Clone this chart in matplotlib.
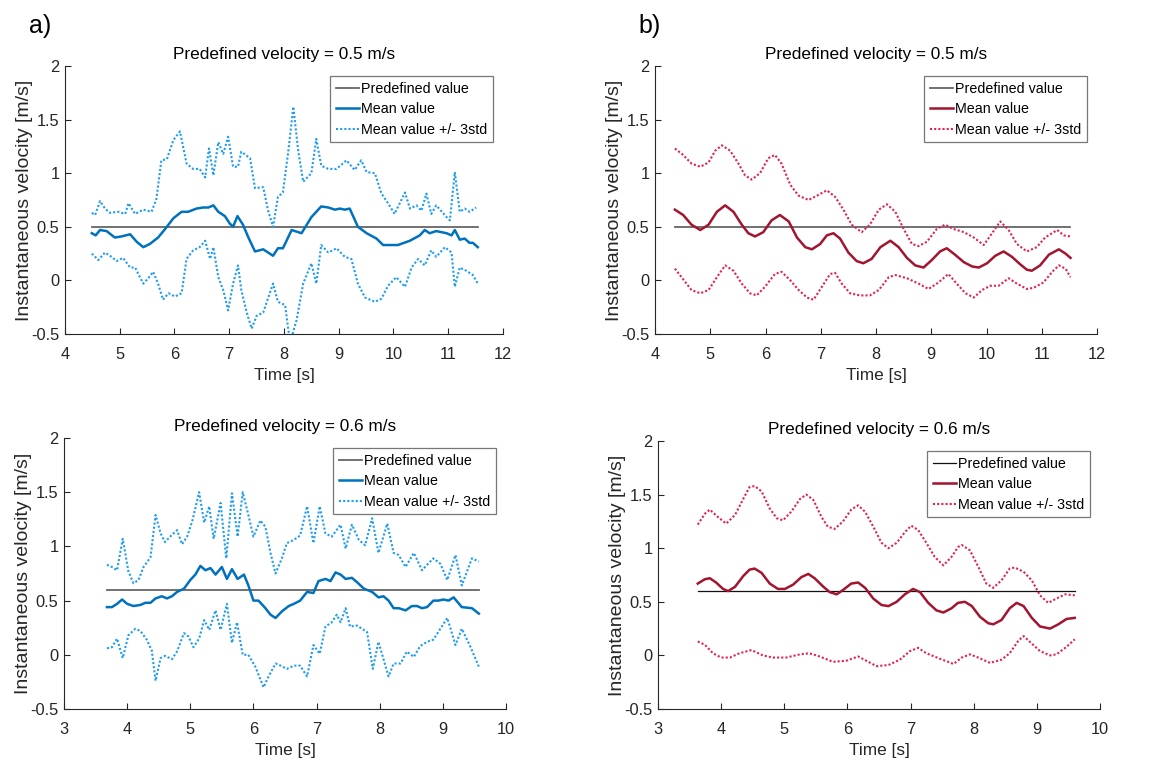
import matplotlib
matplotlib.use("Agg")
import matplotlib.pyplot as plt
from matplotlib.ticker import FuncFormatter

plt.rcParams['font.family'] = ['Liberation Sans', 'DejaVu Sans']

# ---- a) top : predefined 0.5 m/s
a1_ref = 0.5
a1_mean_t = [4.49, 4.56, 4.64, 4.76, 4.91, 5.03, 5.19, 5.31, 5.43, 5.55, 5.70, 5.83, 5.98, 6.13, 6.25,
             6.40, 6.52, 6.62, 6.71, 6.80, 6.92, 7.01, 7.07, 7.15, 7.25, 7.35, 7.47, 7.62, 7.71, 7.80,
             7.89, 7.98, 8.14, 8.32, 8.50, 8.68, 8.81, 8.93, 9.02, 9.11, 9.20, 9.35, 9.51, 9.69, 9.81,
             9.99, 10.08, 10.30, 10.48, 10.57, 10.66, 10.78, 10.97, 11.06, 11.12, 11.21, 11.30, 11.39,
             11.45, 11.54]
a1_mean_v = [0.44, 0.42, 0.47, 0.46, 0.40, 0.41, 0.43, 0.36, 0.31, 0.34, 0.40, 0.48, 0.58, 0.64, 0.64,
             0.67, 0.68, 0.68, 0.70, 0.64, 0.60, 0.53, 0.50, 0.60, 0.52, 0.40, 0.27, 0.29, 0.26, 0.23,
             0.30, 0.30, 0.47, 0.44, 0.59, 0.69, 0.68, 0.66, 0.67, 0.66, 0.67, 0.50, 0.44, 0.39, 0.33,
             0.33, 0.33, 0.37, 0.42, 0.47, 0.44, 0.46, 0.44, 0.42, 0.47, 0.38, 0.39, 0.35, 0.35, 0.31]
a1_up_t = [4.49, 4.55, 4.64, 4.73, 4.82, 4.97, 5.10, 5.16, 5.28, 5.43, 5.58, 5.67, 5.76, 5.86, 5.98,
           6.10, 6.22, 6.34, 6.46, 6.56, 6.63, 6.71, 6.80, 6.89, 6.98, 7.07, 7.16, 7.22, 7.38, 7.47,
           7.62, 7.71, 7.80, 7.89, 7.98, 8.08, 8.17, 8.26, 8.35, 8.50, 8.59, 8.68, 8.81, 8.96, 9.14,
           9.29, 9.41, 9.51, 9.66, 9.78, 9.90, 10.02, 10.21, 10.30, 10.42, 10.51, 10.60, 10.69, 10.78,
           10.97, 11.03, 11.12, 11.21, 11.30, 11.39, 11.51]
a1_up_v = [0.63, 0.61, 0.74, 0.67, 0.63, 0.64, 0.62, 0.72, 0.62, 0.66, 0.64, 0.76, 1.12, 1.13, 1.31,
           1.39, 1.09, 1.04, 1.04, 0.96, 1.23, 0.98, 1.29, 1.18, 1.34, 1.06, 1.06, 1.20, 1.14, 0.86,
           0.87, 0.65, 0.50, 0.78, 0.82, 1.21, 1.62, 1.21, 0.92, 1.00, 1.32, 1.07, 1.04, 1.04, 1.12,
           1.03, 1.12, 1.01, 1.00, 0.81, 0.72, 0.62, 0.82, 0.67, 0.70, 0.65, 0.81, 0.62, 0.70,
           0.59, 0.56, 1.01, 0.64, 0.67, 0.64, 0.68]
a1_lo_t = [4.49, 4.61, 4.73, 4.85, 4.94, 5.06, 5.19, 5.28, 5.37, 5.43, 5.52, 5.61, 5.70, 5.79, 5.89,
           6.01, 6.13, 6.22, 6.34, 6.46, 6.56, 6.65, 6.71, 6.80, 6.89, 6.98, 7.07, 7.16, 7.22, 7.32,
           7.41, 7.50, 7.62, 7.80, 7.89, 8.02, 8.11, 8.23, 8.35, 8.50, 8.59, 8.68, 8.81, 8.96, 9.11,
           9.23, 9.35, 9.48, 9.66, 9.78, 9.90, 10.05, 10.21, 10.33, 10.45, 10.57, 10.69, 10.78, 10.94,
           11.06, 11.12, 11.21, 11.33, 11.45, 11.54]
a1_lo_v = [0.25, 0.19, 0.26, 0.22, 0.18, 0.21, 0.12, 0.12, 0.03, -0.03, 0.02, 0.08, -0.03, -0.18, -0.12,
           -0.15, -0.12, 0.20, 0.28, 0.31, 0.37, 0.20, 0.31, 0.03, -0.09, -0.28, -0.03, 0.14, -0.09, -0.30,
           -0.45, -0.33, -0.30, -0.03, -0.20, -0.23, -0.58, -0.37, -0.03, 0.16, -0.03, 0.33, 0.26, 0.30, 0.22,
           0.20, -0.03, -0.16, -0.20, -0.17, -0.05, 0.03, -0.06, 0.12, 0.20, 0.14, 0.28, 0.22, 0.31,
           0.26, -0.06, 0.12, 0.09, 0.05, -0.03]

# ---- b) top : predefined 0.5 m/s
b1_ref = 0.5
b1_mean_t = [4.36, 4.51, 4.66, 4.82, 4.97, 5.12, 5.27, 5.42, 5.57, 5.69, 5.81, 5.96, 6.11, 6.26, 6.42,
             6.57, 6.72, 6.84, 6.99, 7.11, 7.23, 7.35, 7.50, 7.65, 7.77, 7.92, 8.08, 8.26, 8.41, 8.56,
             8.71, 8.86, 9.01, 9.16, 9.28, 9.43, 9.59, 9.74, 9.86, 10.01, 10.16, 10.31, 10.46, 10.61,
             10.73, 10.82, 10.97, 11.13, 11.31, 11.43, 11.52]
b1_mean_v = [0.66, 0.61, 0.52, 0.47, 0.52, 0.64, 0.70, 0.64, 0.52, 0.44, 0.41, 0.45, 0.56, 0.61, 0.55,
             0.40, 0.31, 0.29, 0.34, 0.42, 0.44, 0.39, 0.26, 0.18, 0.16, 0.20, 0.31, 0.37, 0.31, 0.21,
             0.14, 0.12, 0.19, 0.27, 0.30, 0.24, 0.17, 0.13, 0.12, 0.16, 0.23, 0.27, 0.22, 0.15,
             0.10, 0.09, 0.14, 0.24, 0.29, 0.25, 0.21]
b1_up_t = [4.36, 4.51, 4.66, 4.82, 4.97, 5.09, 5.21, 5.36, 5.51, 5.63, 5.75, 5.90, 6.05, 6.17, 6.29,
           6.45, 6.60, 6.78, 6.93, 7.11, 7.26, 7.41, 7.56, 7.74, 7.89, 8.05, 8.20, 8.35, 8.50, 8.65,
           8.77, 8.92, 9.10, 9.25, 9.40, 9.59, 9.77, 9.95, 10.10, 10.25, 10.40, 10.55, 10.73, 10.91,
           11.06, 11.28, 11.40, 11.52]
b1_up_v = [1.23, 1.17, 1.09, 1.06, 1.10, 1.21, 1.26, 1.21, 1.09, 0.98, 0.94, 1.00, 1.14, 1.17, 1.09,
           0.89, 0.79, 0.75, 0.79, 0.84, 0.78, 0.66, 0.52, 0.45, 0.52, 0.66, 0.71, 0.64, 0.48, 0.34,
           0.32, 0.36, 0.48, 0.52, 0.48, 0.45, 0.40, 0.33, 0.44, 0.55, 0.47, 0.34, 0.27, 0.31,
           0.40, 0.47, 0.42, 0.41]
b1_lo_t = [4.36, 4.51, 4.66, 4.82, 4.97, 5.12, 5.27, 5.42, 5.57, 5.72, 5.84, 5.99, 6.17, 6.29, 6.45,
           6.60, 6.75, 6.87, 7.02, 7.17, 7.26, 7.38, 7.53, 7.71, 7.89, 8.05, 8.23, 8.35, 8.56, 8.77,
           8.95, 9.13, 9.31, 9.46, 9.62, 9.77, 9.92, 10.07, 10.22, 10.40, 10.55, 10.73, 10.85, 11.03,
           11.19, 11.31, 11.43, 11.52]
b1_lo_v = [0.11, 0.01, -0.09, -0.12, -0.09, 0.03, 0.14, 0.09, -0.03, -0.12, -0.14, -0.06, 0.06, 0.08, 0.00,
           -0.09, -0.16, -0.18, -0.06, 0.06, 0.07, -0.03, -0.12, -0.14, -0.14, -0.09, 0.03, 0.05, 0.02, -0.03,
           -0.08, -0.02, 0.06, -0.03, -0.12, -0.16, -0.09, -0.05, -0.05, 0.02, -0.03, -0.08, -0.07, -0.02,
           0.08, 0.14, 0.11, 0.03]

# ---- a) bottom : predefined 0.6 m/s
a2_ref = 0.6
a2_mean_t = [3.68, 3.76, 3.84, 3.92, 4.00, 4.10, 4.21, 4.29, 4.37, 4.45, 4.55, 4.63, 4.71, 4.79, 4.90,
             5.00, 5.08, 5.16, 5.24, 5.32, 5.40, 5.50, 5.58, 5.66, 5.75, 5.85, 5.92, 6.00, 6.08, 6.19,
             6.27, 6.35, 6.45, 6.56, 6.64, 6.74, 6.85, 6.95, 7.03, 7.14, 7.22, 7.30, 7.38, 7.46, 7.56,
             7.64, 7.75, 7.88, 7.98, 8.06, 8.14, 8.22, 8.30, 8.41, 8.51, 8.59, 8.67, 8.75, 8.85, 8.93,
             9.01, 9.09, 9.17, 9.30, 9.46, 9.57]
a2_mean_v = [0.44, 0.44, 0.47, 0.51, 0.47, 0.45, 0.46, 0.48, 0.48, 0.52, 0.54, 0.52, 0.54, 0.58, 0.61,
             0.69, 0.74, 0.82, 0.78, 0.80, 0.74, 0.81, 0.70, 0.79, 0.70, 0.74, 0.64, 0.50, 0.50, 0.43,
             0.37, 0.34, 0.40, 0.45, 0.47, 0.50, 0.58, 0.57, 0.68, 0.70, 0.68, 0.76, 0.74, 0.70, 0.71,
             0.67, 0.61, 0.58, 0.53, 0.54, 0.50, 0.43, 0.43, 0.41, 0.45, 0.45, 0.43, 0.44, 0.50, 0.50,
             0.51, 0.50, 0.53, 0.44, 0.43, 0.38]
a2_up_t = [3.68, 3.76, 3.84, 3.93, 4.02, 4.10, 4.18, 4.26, 4.37, 4.45, 4.53, 4.60, 4.68, 4.79, 4.87,
           4.95, 5.03, 5.14, 5.22, 5.30, 5.37, 5.48, 5.57, 5.66, 5.75, 5.83, 5.92, 6.00, 6.11, 6.19,
           6.27, 6.35, 6.45, 6.53, 6.64, 6.74, 6.85, 6.95, 7.05, 7.14, 7.24, 7.38, 7.46, 7.56, 7.67,
           7.77, 7.88, 7.98, 8.12, 8.22, 8.30, 8.41, 8.54, 8.67, 8.75, 8.85, 8.96, 9.07, 9.20, 9.30,
           9.46, 9.57]
a2_up_v = [0.83, 0.81, 0.78, 1.07, 0.77, 0.66, 0.69, 0.81, 0.90, 1.29, 1.12, 1.04, 1.09, 1.15, 1.02,
           1.09, 1.23, 1.50, 1.22, 1.37, 1.07, 1.40, 0.89, 1.49, 1.09, 1.50, 1.29, 1.09, 1.24, 1.18,
           0.94, 0.75, 0.89, 1.03, 1.06, 1.10, 1.37, 1.03, 1.37, 1.12, 1.09, 1.20, 0.98, 1.20, 1.06,
           1.01, 1.26, 0.94, 1.21, 0.94, 0.92, 0.81, 0.94, 0.78, 0.83, 0.89, 0.84, 0.69, 0.92, 0.64,
           0.89, 0.86]
a2_lo_t = [3.68, 3.76, 3.84, 3.93, 4.02, 4.13, 4.21, 4.31, 4.39, 4.45, 4.53, 4.60, 4.71, 4.79, 4.90,
           4.97, 5.05, 5.14, 5.22, 5.30, 5.40, 5.48, 5.58, 5.66, 5.74, 5.83, 5.92, 6.03, 6.16, 6.24,
           6.35, 6.43, 6.53, 6.64, 6.74, 6.85, 6.95, 7.05, 7.14, 7.24, 7.32, 7.38, 7.46, 7.53, 7.64,
           7.80, 7.89, 7.98, 8.14, 8.22, 8.33, 8.43, 8.54, 8.64, 8.75, 8.85, 8.96, 9.07, 9.20, 9.30,
           9.44, 9.57]
a2_lo_v = [0.06, 0.07, 0.15, -0.03, 0.18, 0.24, 0.22, 0.14, 0.04, -0.24, -0.03, -0.01, -0.04, 0.03, 0.20,
           0.17, 0.07, 0.15, 0.32, 0.23, 0.41, 0.23, 0.47, 0.11, 0.30, 0.00, 0.00, -0.11, -0.30, -0.20,
           -0.08, -0.10, -0.13, -0.10, -0.10, -0.20, 0.09, 0.01, 0.26, 0.30, 0.37, 0.30, 0.43, 0.26, 0.27,
           0.21, -0.13, 0.12, -0.20, -0.08, -0.08, 0.03, -0.02, 0.08, 0.12, 0.14, 0.24, 0.34, 0.09, 0.24,
           0.07, -0.11]

# ---- b) bottom : predefined 0.6 m/s
b2_ref = 0.6
b2_mean_t = [3.63, 3.74, 3.82, 3.92, 4.03, 4.11, 4.22, 4.35, 4.45, 4.53, 4.64, 4.77, 4.90, 5.01, 5.14,
             5.27, 5.38, 5.48, 5.62, 5.72, 5.83, 5.93, 6.06, 6.17, 6.28, 6.41, 6.54, 6.65, 6.78, 6.91,
             7.04, 7.15, 7.28, 7.41, 7.52, 7.65, 7.75, 7.86, 7.97, 8.10, 8.23, 8.31, 8.44, 8.57, 8.68,
             8.79, 8.92, 9.05, 9.21, 9.34, 9.47, 9.60]
b2_mean_v = [0.67, 0.71, 0.72, 0.68, 0.62, 0.60, 0.64, 0.74, 0.80, 0.81, 0.77, 0.67, 0.62, 0.62, 0.66,
             0.73, 0.76, 0.72, 0.64, 0.59, 0.57, 0.61, 0.67, 0.68, 0.63, 0.53, 0.47, 0.46, 0.50, 0.57,
             0.62, 0.59, 0.49, 0.42, 0.40, 0.44, 0.49, 0.50, 0.46, 0.36, 0.30, 0.29, 0.33, 0.44, 0.49,
             0.46, 0.35, 0.27, 0.25, 0.29, 0.34, 0.35]
b2_up_t = [3.63, 3.74, 3.82, 3.95, 4.08, 4.22, 4.35, 4.45, 4.53, 4.64, 4.77, 4.88, 4.98, 5.11, 5.25,
           5.35, 5.46, 5.59, 5.69, 5.80, 5.93, 6.06, 6.17, 6.28, 6.41, 6.54, 6.65, 6.78, 6.91, 7.01,
           7.12, 7.25, 7.38, 7.52, 7.65, 7.75, 7.81, 7.94, 8.07, 8.20, 8.31, 8.44, 8.57, 8.65, 8.79,
           8.92, 9.05, 9.18, 9.31, 9.45, 9.60]
b2_up_v = [1.22, 1.32, 1.36, 1.29, 1.23, 1.31, 1.46, 1.57, 1.58, 1.53, 1.37, 1.28, 1.26, 1.34, 1.46,
           1.50, 1.45, 1.29, 1.20, 1.18, 1.25, 1.36, 1.40, 1.34, 1.20, 1.05, 1.00, 1.05, 1.15, 1.21,
           1.17, 1.05, 0.92, 0.84, 0.92, 1.01, 1.03, 0.98, 0.83, 0.67, 0.63, 0.70, 0.81, 0.82, 0.78,
           0.70, 0.56, 0.49, 0.53, 0.57, 0.56]
b2_lo_t = [3.63, 3.74, 3.87, 4.00, 4.14, 4.29, 4.48, 4.66, 4.82, 5.03, 5.25, 5.40, 5.56, 5.77, 5.98,
           6.17, 6.30, 6.46, 6.65, 6.83, 6.99, 7.12, 7.25, 7.46, 7.68, 7.81, 7.94, 8.07, 8.26, 8.44,
           8.57, 8.71, 8.79, 8.92, 9.05, 9.21, 9.31, 9.47, 9.60]
b2_lo_v = [0.13, 0.10, 0.02, -0.02, -0.02, 0.02, 0.05, 0.00, -0.02, -0.02, 0.01, 0.02, -0.01, -0.06, -0.05,
           -0.01, -0.05, -0.10, -0.09, -0.04, 0.04, 0.07, 0.02, -0.03, -0.08, -0.02, 0.01, -0.02, -0.07, -0.04,
           0.02, 0.14, 0.18, 0.11, 0.04, 0.00, 0.01, 0.08, 0.15]

titles = ['Predefined velocity = 0.5 m/s', 'Predefined velocity = 0.5 m/s',
          'Predefined velocity = 0.6 m/s', 'Predefined velocity = 0.6 m/s']
leg_labels = ['Predefined value', 'Mean value', 'Mean value +/- 3std']
y_ticks = [-0.5, 0, 0.5, 1, 1.5, 2]

blue = '#0072BD'
blue_dot = '#1E9CF0'
red = '#A2142F'
red_dot = '#E3204E'
txt = '#262626'

W, H = 1175, 767
fig = plt.figure(figsize=(W / 100, H / 100), dpi=100)


def px_axes(left, top, right, bottom):
    return fig.add_axes([left / W, 1 - bottom / H, (right - left) / W, (bottom - top) / H])


def panel(ax, ref, mt, mv, ut, uv, lt, lv, c, cd, refc, reflw, xlim, title):
    ax.plot([mt[0], mt[-1]], [ref, ref], color=refc, lw=reflw, label=leg_labels[0])
    ax.plot(mt, mv, color=c, lw=1.8, label=leg_labels[1])
    ax.plot(ut, uv, color=cd, lw=1.5, ls=(0, (1, 1)), label=leg_labels[2])
    ax.plot(lt, lv, color=cd, lw=1.5, ls=(0, (1, 1)))
    ax.set_xlim(*xlim)
    ax.set_ylim(-0.5, 2)
    ax.set_xticks(range(xlim[0], xlim[1] + 1))
    ax.set_yticks(y_ticks)
    ax.yaxis.set_major_formatter(FuncFormatter(lambda v, p: '%g' % v))
    for s in ['top', 'right']:
        ax.spines[s].set_visible(False)
    for s in ['left', 'bottom']:
        ax.spines[s].set_color(txt)
        ax.spines[s].set_linewidth(0.8)
    ax.tick_params(direction='in', length=4, width=0.8, colors=txt, labelsize=11.8)
    ax.tick_params(axis='x', pad=9)
    ax.tick_params(axis='y', pad=4)
    ax.set_title(title, fontsize=12.4, color='black', pad=5)
    ax.set_xlabel('Time [s]', fontsize=12.4, color=txt, labelpad=5)
    ax.set_ylabel('Instantaneous velocity [m/s]', fontsize=14, color=txt, labelpad=-1)
    leg = ax.legend(loc='upper right', fontsize=10.3, frameon=True, fancybox=False,
                    borderaxespad=0.7, handlelength=1.6, handletextpad=0.15, labelspacing=0.45,
                    borderpad=0.4)
    leg.get_frame().set_edgecolor('#555555')
    leg.get_frame().set_linewidth(0.9)


ax1 = px_axes(65, 66, 503, 334)
panel(ax1, a1_ref, a1_mean_t, a1_mean_v, a1_up_t, a1_up_v, a1_lo_t, a1_lo_v,
      blue, blue_dot, '#666666', 1.3, (4, 12), titles[0])
ax2 = px_axes(655, 66, 1097, 334)
panel(ax2, b1_ref, b1_mean_t, b1_mean_v, b1_up_t, b1_up_v, b1_lo_t, b1_lo_v,
      red, red_dot, '#666666', 1.3, (4, 12), titles[1])
ax3 = px_axes(64, 438, 506, 709)
panel(ax3, a2_ref, a2_mean_t, a2_mean_v, a2_up_t, a2_up_v, a2_lo_t, a2_lo_v,
      blue, blue_dot, '#666666', 1.3, (3, 10), titles[2])
ax4 = px_axes(658, 441, 1100, 709)
panel(ax4, b2_ref, b2_mean_t, b2_mean_v, b2_up_t, b2_up_v, b2_lo_t, b2_lo_v,
      red, red_dot, '#111111', 0.9, (3, 10), titles[3])

fig.text(29 / W, 1 - 33 / H, 'a)', fontsize=18, color='black')
fig.text(638 / W, 1 - 33 / H, 'b)', fontsize=18, color='black')

fig.savefig('out.png', dpi=100)
